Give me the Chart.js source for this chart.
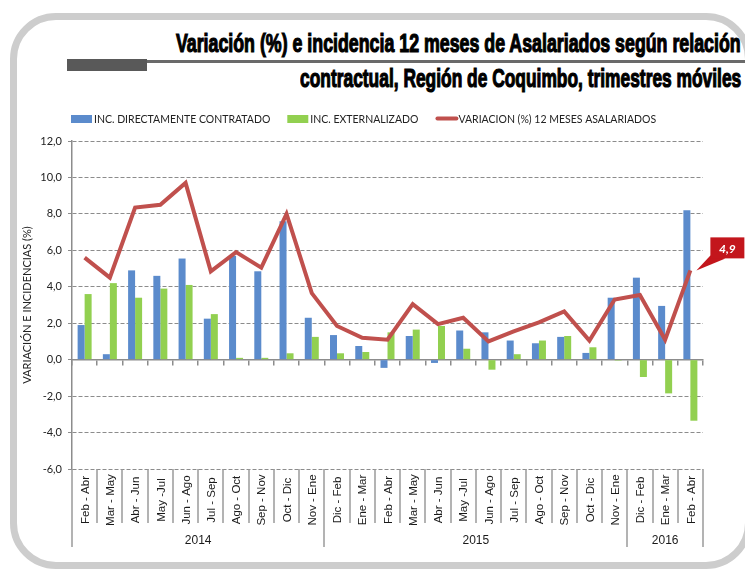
<!DOCTYPE html>
<html>
<head>
<meta charset="utf-8">
<script src="https://cdn.jsdelivr.net/npm/chart.js@4.4.0/dist/chart.umd.min.js"></script>
<style>
html,body{margin:0;padding:0;background:#fff;width:745px;height:569px;overflow:hidden;position:relative}
#frame{position:absolute;left:10px;top:13px;width:742px;height:556px;box-sizing:border-box;border:7px solid #cdcdcd;border-radius:46px}
.ttl{position:absolute;right:4px;font-family:"Liberation Sans Narrow","Arial Narrow",sans-serif;font-weight:bold;font-size:26px;line-height:26px;white-space:nowrap;color:#000;transform-origin:100% 50%;-webkit-text-stroke:1.2px #000}
#t1{top:30px}
#t2{top:65px}
#gbar{position:absolute;left:67px;top:59px;width:80px;height:12px;background:#595959}
#rule{position:absolute;left:147px;top:60px;width:598px;height:2.5px;background:#6a6a6a}
#c{position:absolute;left:0;top:0}
</style>
</head>
<body>
<div id="frame"></div>
<div id="gbar"></div>
<div id="rule"></div>
<div class="ttl" id="t1">Variación (%) e incidencia 12 meses de Asalariados según relación</div>
<div class="ttl" id="t2">contractual, Región de Coquimbo, trimestres móviles</div>
<canvas id="c" width="745" height="569"></canvas>
<script>
// ---------- DATA ----------
const categories = ["Feb - Abr","Mar - May","Abr - Jun","May -Jul","Jun - Ago","Jul - Sep","Ago - Oct","Sep - Nov","Oct - Dic","Nov - Ene",
  "Dic - Feb","Ene - Mar","Feb - Abr","Mar - May","Abr - Jun","May -Jul","Jun - Ago","Jul - Sep","Ago - Oct","Sep - Nov","Oct - Dic","Nov - Ene",
  "Dic - Feb","Ene - Mar","Feb - Abr"];
const yearLabels = ["2014","2015","2016"];
const yearSpans = [10, 12, 3];
const incDirecto = [1.9, 0.3, 4.9, 4.6, 5.55, 2.25, 5.7, 4.85, 7.6, 2.3,
  1.35, 0.75, -0.45, 1.3, -0.18, 1.6, 1.5, 1.05, 0.9, 1.25, 0.37, 3.4,
  4.5, 2.95, 8.2];
const incExternalizado = [3.6, 4.2, 3.4, 3.9, 4.1, 2.5, 0.1, 0.1, 0.35, 1.25,
  0.35, 0.42, 1.5, 1.65, 1.85, 0.6, -0.55, 0.3, 1.05, 1.3, 0.68, -0.05,
  -0.95, -1.85, -3.35];
const variacion12m = [5.6, 4.5, 8.35, 8.5, 9.7, 4.85, 5.9, 5.05, 8.0, 3.65,
  1.85, 1.2, 1.1, 3.05, 1.95, 2.3, 1.0, 1.55, 2.05, 2.65, 1.05, 3.3,
  3.55, 1.1, 4.9];
const yTickValues = [-6, -4, -2, 0, 2, 4, 6, 8, 10, 12];
const seriesNames = ["INC. DIRECTAMENTE CONTRATADO", "INC. EXTERNALIZADO", "VARIACION (%) 12 MESES ASALARIADOS"];
const yAxisTitle = "VARIACIÓN E INCIDENCIAS (%)";

// ---------- STYLE ----------
const BLUE = '#5b8bcc', GREEN = '#92d050', RED = '#c0504d', GRID = '#8c8c8c';
const fmt = v => Number(v).toFixed(1).replace('.', ',');

// title fitting
[['t1', 565], ['t2', 441]].forEach(([id, w]) => {
  const el = document.getElementById(id);
  el.style.transform = 'scaleX(' + (w / el.offsetWidth) + ')';
});

const decor = {
  id: 'decor',
  afterDraw(chart) {
    const ctx = chart.ctx, x = chart.scales.x, area = chart.chartArea;
    const n = categories.length;
    const step = x.getPixelForValue(1) - x.getPixelForValue(0);
    const bottom = area.bottom;
    const catBottom = bottom + 54, groupBottom = bottom + 78;
    ctx.save();
    // separators
    const groupIdx = [0]; let acc = 0;
    yearSpans.forEach(s => { acc += s; groupIdx.push(acc); });
    ctx.strokeStyle = '#9a9a9a'; ctx.lineWidth = 1.5;
    for (let i = 0; i <= n; i++) {
      const px = Math.round(x.getPixelForValue(i) - step / 2);
      ctx.beginPath();
      ctx.moveTo(px, bottom);
      ctx.lineTo(px, groupIdx.includes(i) ? groupBottom : catBottom);
      ctx.stroke();
    }
    // category labels
    ctx.fillStyle = '#1a1a1a';
    ctx.font = '11.5px "Liberation Sans Narrow", "Arial Narrow", sans-serif';
    ctx.textAlign = 'center'; ctx.textBaseline = 'middle';
    categories.forEach((c, i) => {
      const px = x.getPixelForValue(i);
      ctx.save(); ctx.translate(px + 1, bottom + 31); ctx.rotate(-Math.PI / 2);
      ctx.fillText(c, 0, 0); ctx.restore();
    });
    // year labels
    ctx.font = '12px "Liberation Sans Narrow", "Arial Narrow", sans-serif';
    let start = 0;
    yearSpans.forEach((s, k) => {
      const a = x.getPixelForValue(start) - step / 2, b = x.getPixelForValue(start + s - 1) + step / 2;
      ctx.fillText(yearLabels[k], (a + b) / 2, bottom + 72);
      start += s;
    });
    // legend
    ctx.font = '10.5px Lato, sans-serif';
    ctx.textAlign = 'left'; ctx.textBaseline = 'alphabetic';
    let lx = area.left - 1;
    const ly = area.top - 26;
    chart.data.datasets.slice().sort((p, q) => p.legendOrder - q.legendOrder).forEach(ds => {
      if (ds.type === 'line') {
        ctx.strokeStyle = ds.borderColor; ctx.lineWidth = 4; ctx.lineCap = 'round';
        ctx.beginPath(); ctx.moveTo(lx + 2, ly + 3.5); ctx.lineTo(lx + 21, ly + 3.5); ctx.stroke();
        ctx.lineCap = 'butt';
      } else {
        ctx.fillStyle = ds.backgroundColor; ctx.fillRect(lx, ly, 21, 8);
      }
      ctx.fillStyle = '#222';
      ctx.fillText(ds.label, lx + 23, ly + 7.5);
      lx += 23 + ctx.measureText(ds.label).width + 17;
    });
    // data label for last point of the line
    const li = chart.data.datasets.findIndex(d => d.type === 'line');
    const meta = chart.getDatasetMeta(li);
    const pt = meta.data[meta.data.length - 1];
    const val = chart.data.datasets[li].data[meta.data.length - 1];
    const bx = pt.x + 20, by = pt.y - 33, bw = 34, bh = 21;
    ctx.fillStyle = '#c3161c';
    ctx.beginPath(); ctx.moveTo(bx, by + bh - 3); ctx.lineTo(bx + 15, by + bh); ctx.lineTo(pt.x + 6, pt.y); ctx.closePath(); ctx.fill();
    ctx.fillRect(bx, by, bw, bh);
    ctx.fillStyle = '#fff'; ctx.font = 'italic bold 12px Lato, sans-serif';
    ctx.textAlign = 'center'; ctx.textBaseline = 'middle';
    ctx.fillText(fmt(val), bx + bw / 2, by + bh / 2 + 1);
    ctx.restore();
  }
};

new Chart(document.getElementById('c'), {
  type: 'bar',
  data: {
    labels: categories,
    datasets: [
      { type: 'line', label: seriesNames[2], data: variacion12m, borderColor: RED, backgroundColor: RED,
        borderWidth: 4, pointRadius: 0, tension: 0, order: 0, legendOrder: 2 },
      { type: 'bar', label: seriesNames[0], data: incDirecto, backgroundColor: BLUE,
        categoryPercentage: 0.555, barPercentage: 1, order: 1, legendOrder: 0 },
      { type: 'bar', label: seriesNames[1], data: incExternalizado, backgroundColor: GREEN,
        categoryPercentage: 0.555, barPercentage: 1, order: 1, legendOrder: 1 }
    ]
  },
  options: {
    responsive: false,
    animation: false,
    layout: { padding: { left: 0, top: 141, right: 42, bottom: 100 } },
    plugins: { legend: { display: false }, tooltip: { enabled: false } },
    scales: {
      x: {
        position: { y: 0 },
        offset: true,
        grid: { offset: true, drawOnChartArea: false, drawTicks: true, tickLength: 5, color: GRID, lineWidth: 1.5 },
        border: { display: true, color: GRID, width: 1.5 },
        ticks: { display: false }
      },
      y: {
        min: yTickValues[0], max: yTickValues[yTickValues.length - 1],
        ticks: { stepSize: yTickValues[1] - yTickValues[0], callback: v => fmt(v),
          font: { family: 'Lato', size: 11 }, color: '#222', padding: 6 },
        grid: { color: GRID, lineWidth: 1, tickLength: 4, tickBorderDash: [], drawTicks: true },
        border: { display: true, color: GRID, width: 1.5, dash: [4, 2] },
        title: { display: true, text: yAxisTitle, font: { family: 'Lato', size: 11 }, color: '#222',
          padding: { top: 21, bottom: 0 } },
        afterFit: s => { s.width = 72; }
      }
    }
  },
  plugins: [decor]
});
</script>
</body>
</html>
